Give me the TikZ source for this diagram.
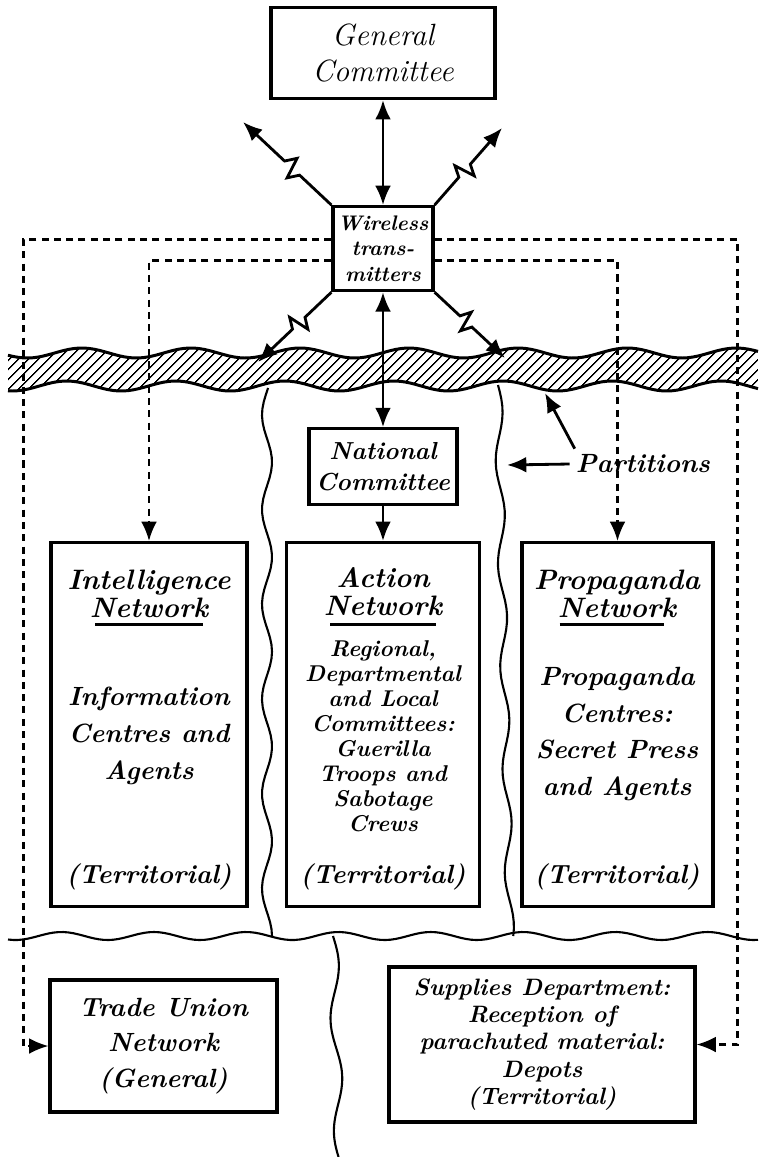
\documentclass[tikz,border=0pt]{standalone}
\usepackage{fontspec}
\usetikzlibrary{arrows.meta, positioning, calc, patterns.meta}
\tikzstyle{box} = [
	rectangle,
	minimum width=3cm,
	minimum height=1cm,
	inner sep=0pt,
	align=center,
	draw=black,
	line width=1.8pt
]
\tikzstyle{network} = [
	box,
	minimum height=7.28cm
]
\tikzstyle{heading} = [
	align=center,
	font=\fontsize{16}{16}\selectfont\bfseries\itshape
]
\tikzstyle{bodytext} = [
	align=center,
	font=\fontsize{15}{21}\selectfont\bfseries\itshape
]
\tikzstyle{smalltext} = [
	align=center,
	font=\fontsize{13}{14.2}\selectfont\bfseries\itshape
]
\tikzstyle{territory} = [
	font=\fontsize{15}{18}\selectfont\bfseries\itshape
]
\tikzstyle{arrow} = [line width=1.6pt,->,>={Latex[length=11pt,width=9pt]}]
\tikzstyle{twoway} = [arrow,<->]
\tikzstyle{dasharrow} = [arrow,line width=1.3pt,dash pattern=on 4pt off 3pt]
\tikzstyle{wavy} = [line width=1.2pt]
\tikzstyle{underline} = [line width=1.7pt]
\tikzstyle{bolt} = [
	arrow,
	to path={
		-- ($(\tikztostart)!0.36!(\tikztotarget)$)
		-- ($(\tikztostart)!0.42!(\tikztotarget)!6pt!90:(\tikztotarget)$)
		-- ($(\tikztostart)!0.47!(\tikztotarget)!6pt!-90:(\tikztotarget)$)
		-- ($(\tikztostart)!0.53!(\tikztotarget)$)
		-- (\tikztotarget)
	}
]
\begin{document}
\begin{tikzpicture}[x=0.02cm,y=-0.02cm]

		\useasboundingbox (0,0) rectangle (758,1157);

		\fill [pattern={Lines[angle=45,distance=4pt,line width=0.8pt]}] plot [domain=8:758,samples=150] (\x,{353+5*sin(3.3*\x)}) -- plot [domain=758:8,samples=150] (\x,{386+5*sin(3.3*\x+50)}) -- cycle;
		\draw [underline] plot [domain=8:758,samples=150] (\x,{353+5*sin(3.3*\x)});
		\draw [underline] plot [domain=8:758,samples=150] (\x,{386+5*sin(3.3*\x+50)});
		\draw [wavy] plot [domain=8:758,samples=150] (\x,{936+4*sin(3.9*\x+30)});
		\draw [wavy] plot [domain=388:936,samples=80] ({267+5*sin(3.8*(\x-388)+168)},\x);
		\draw [wavy] plot [domain=385:936,samples=80] ({498+0.022*(\x-385)+4*sin(3.5*(\x-385))},\x);
		\draw [wavy] plot [domain=936:1157,samples=50] ({333+0.03*(\x-936)+5*sin(3.2*(\x-936))},\x);

		\node (generalcommittee) [box, minimum width=4.48cm, minimum height=1.82cm, font=\fontsize{17.5}{21}\selectfont\itshape] at (383,53) {General\\Committee};
		\node (wireless) [box, minimum width=2cm, minimum height=1.68cm, font=\fontsize{12}{14.5}\selectfont\bfseries\itshape, below=2.1cm of generalcommittee] {Wireless\\trans-\\mitters};
		\node (national) [box, minimum width=2.96cm, minimum height=1.52cm, font=\fontsize{14}{18}\selectfont\bfseries\itshape, below=2.7cm of wireless] {National\\Committee};
		\node (action) [network, minimum width=3.86cm] at (383,724.5) {};
		\node (intelligence) [network, minimum width=3.92cm] at (149,724.5) {};
		\node (propaganda) [network, minimum width=3.82cm] at (617.5,724.5) {};

		\node (inteltitle) [heading] at (149,594) {Intelligence\\Network};
		\node (intelbody) [bodytext] at (149,736) {Information\\Centres and\\Agents};
		\node (intelterritory) [territory] at (149,877) {(Territorial)};
		\node (actiontitle) [heading] at (383,592) {Action\\Network};
		\node (actionbody) [smalltext] at (383,736) {Regional,\\Departmental\\and Local\\Committees:\\Guerilla\\Troops and\\Sabotage\\Crews};
		\node (actionterritory) [territory] at (383,877) {(Territorial)};
		\node (proptitle) [heading] at (617,594) {Propaganda\\Network};
		\node (propbody) [bodytext] at (617,734) {Propaganda\\Centres:\\Secret Press\\and Agents};
		\node (propterritory) [territory] at (617,877) {(Territorial)};

		\node (tradeunion) [box, minimum width=4.54cm, minimum height=2.64cm, font=\fontsize{15}{20}\selectfont\bfseries\itshape] at (163.5,1046) {Trade Union\\Network\\(General)};
		\node (supplies) [box, minimum width=6.12cm, minimum height=3.1cm, font=\fontsize{13.5}{15.6}\selectfont\bfseries\itshape] at (542,1044.5) {Supplies Department:\\Reception of\\parachuted material:\\Depots\\(Territorial)};
		\node (partitions) [territory] at (643,464) {Partitions};

		\coordinate (skyleft) at (243,122);
		\coordinate (skyright) at (502,128);
		\coordinate (bandleft) at (258,362);
		\coordinate (bandright) at (505,358);
		\coordinate (partitionwall) at (507,465);
		\coordinate (bandedge) at (545,393);

		\draw [underline] ($(intelligence.north)+(-54,84)$) -- ++(108,0);
		\draw [underline] ($(action.north)+(-53,84)$) -- ++(106,0);
		\draw [underline] ($(propaganda.north)+(-58,84)$) -- ++(104,0);

		\draw [twoway] (generalcommittee) -- (wireless);
		\draw [twoway] (wireless) -- (national);
		\draw [arrow] (national) -- (action);

		\draw [bolt] (wireless.north west) to (skyleft);
		\draw [bolt] (wireless.north east) to (skyright);
		\draw [bolt] (wireless.south west) to (bandleft);
		\draw [bolt] (wireless.south east) to (bandright);

		\draw [dasharrow] ([yshift=0.18cm]wireless.west) -| ($(tradeunion.west)+(-25,0)$) -- (tradeunion.west);
		\draw [dasharrow] ([yshift=0.18cm]wireless.east) -| ($(supplies.east)+(41,0)$) -- (supplies.east);
		\draw [dasharrow] ([yshift=-0.24cm]wireless.west) -| (intelligence.north);
		\draw [dasharrow] ([yshift=-0.24cm]wireless.east) -| (propaganda.north);

		\draw [arrow] (partitions.west) -- (partitionwall);
		\draw [arrow] ([xshift=0.1cm]partitions.north west) -- (bandedge);

	\end{tikzpicture}
\end{document}
